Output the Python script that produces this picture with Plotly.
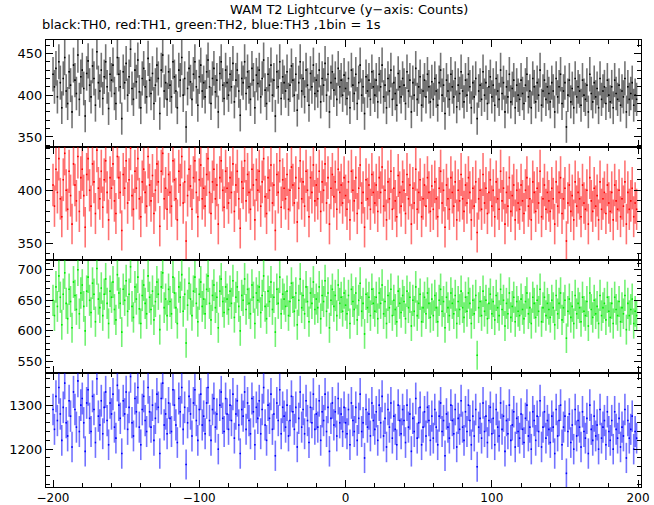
import plotly.graph_objects as go
import numpy as np

time_s = list(range(-200, 200))

th0_counts = [
425,410,432,398,440,415,385,420,445,405,390,428,412,380,436,418,402,448,395,422,
430,408,375,426,441,412,398,435,420,388,452,415,405,430,396,422,440,410,384,425,
418,436,402,390,445,425,410,372,428,415,438,400,422,455,408,395,430,416,442,404,
385,420,432,410,398,444,418,402,426,390,412,436,420,378,430,448,405,415,395,428,
412,398,440,422,405,385,430,418,445,400,420,362,408,432,416,395,425,440,410,388,
422,436,405,415,398,428,442,410,390,420,432,404,418,380,426,440,412,396,430,415,
400,425,410,438,392,418,430,405,376,420,415,440,402,428,410,395,432,418,385,424,
414,430,398,420,442,406,390,425,412,436,400,418,375,428,410,440,396,422,415,405,
428,395,412,435,418,400,425,382,415,440,405,420,398,430,412,388,426,410,436,402,
418,405,430,392,420,412,438,400,425,380,415,428,406,420,395,432,410,418,400,424,
408,396,420,385,430,412,402,425,390,415,436,400,410,378,422,405,418,395,428,410,
400,418,392,425,410,436,398,412,385,420,405,430,395,415,402,388,426,410,398,420,
412,390,428,405,418,380,415,400,432,395,410,422,388,405,418,398,425,410,392,416,
395,420,405,388,415,430,400,412,378,418,405,395,425,410,398,420,386,412,402,428,
405,392,418,400,425,410,385,415,398,420,372,405,412,395,428,400,415,390,410,422,
398,412,388,420,405,395,430,402,415,380,410,398,425,392,408,418,385,412,400,395,
418,402,390,412,425,398,405,385,420,410,392,415,400,430,388,405,418,395,410,402,
392,415,405,380,420,398,410,425,390,405,415,362,400,418,392,408,385,420,398,410,
405,388,418,400,395,412,380,425,402,392,415,398,408,385,420,395,405,410,390,418,
400,392,410,385,418,402,395,412,388,405,398,420,380,410,395,402,415,388,400,395]

th1_counts = [
405,385,420,398,430,392,375,410,435,400,382,418,395,368,425,405,390,432,380,412,
420,395,365,415,430,400,385,425,408,378,438,402,392,418,384,410,428,398,372,412,
402,425,390,378,432,412,398,362,415,402,428,388,410,440,395,382,418,402,430,392,
375,408,420,398,385,432,405,390,414,378,400,425,408,366,418,435,392,402,382,415,
398,385,428,410,392,372,418,405,432,388,408,352,395,420,404,382,412,428,398,375,
410,424,392,402,385,415,430,398,378,408,420,392,405,368,412,428,400,384,418,402,
388,412,398,425,380,405,418,392,364,408,402,428,390,415,398,382,420,405,372,410,
400,418,385,408,430,394,378,412,400,424,388,405,362,415,398,428,384,410,402,392,
415,382,400,422,405,388,412,370,402,428,392,408,385,418,400,375,412,398,424,390,
405,392,418,380,408,400,425,388,412,368,402,415,394,408,382,420,398,405,388,412,
395,382,408,372,418,400,390,412,378,402,424,388,398,365,410,392,405,382,415,398,
388,405,380,412,398,422,385,400,372,408,392,418,382,402,390,375,414,398,385,408,
400,378,415,392,405,368,402,388,420,382,398,410,375,392,405,385,412,398,380,404,
382,408,392,375,402,418,388,400,365,405,392,382,412,398,385,408,372,400,390,415,
392,380,405,388,412,398,372,402,385,408,360,392,400,382,415,388,402,378,398,410,
385,400,375,408,392,382,418,390,402,368,398,385,412,380,395,405,372,400,388,382,
405,390,378,400,412,385,392,372,408,398,380,402,388,418,375,392,405,382,398,390,
380,402,392,368,408,385,398,412,378,392,402,352,388,405,380,395,372,408,385,398,
392,375,405,388,382,400,368,412,390,380,402,385,395,372,408,382,392,398,378,405,
388,380,398,372,405,390,382,400,375,392,385,408,368,398,382,390,402,375,388,382]

th2_counts = [
650,625,672,640,690,655,610,660,695,645,620,668,648,605,680,658,635,700,628,662,
675,640,600,665,688,650,630,678,660,615,702,652,638,670,625,660,685,645,612,665,
655,680,635,618,692,662,645,598,668,650,682,632,660,705,640,622,672,652,688,636,
612,658,675,645,628,690,655,635,665,618,648,680,660,602,672,695,638,652,625,668,
648,628,688,662,638,612,672,655,692,632,660,580,642,678,652,625,665,688,645,615,
660,680,640,652,628,668,690,645,618,658,675,638,655,605,665,685,648,630,672,652,
635,665,645,682,622,655,672,640,600,658,650,685,635,668,645,628,675,655,612,662,
650,672,630,658,690,640,620,665,648,680,635,655,598,668,645,688,628,660,652,640,
665,625,648,678,655,632,662,610,650,685,638,658,628,672,648,615,662,645,680,635,
652,638,672,620,658,648,682,632,662,605,650,668,640,658,625,675,645,655,632,662,
642,628,658,612,668,648,635,662,618,650,678,632,645,595,660,638,655,625,668,645,
632,655,620,662,645,675,628,648,612,658,638,668,625,650,635,615,665,645,630,658,
648,620,665,638,655,608,650,632,672,625,645,660,615,638,655,628,662,645,622,652,
625,658,638,615,650,668,632,648,605,655,638,625,662,645,628,658,612,648,635,665,
638,622,655,632,662,645,612,650,628,658,560,638,648,625,665,632,650,620,645,660,
628,648,618,658,638,625,668,635,650,608,645,628,662,622,640,655,615,648,632,625,
652,635,620,648,662,628,638,612,655,645,622,650,632,668,615,638,655,625,645,635,
622,650,638,610,658,628,645,662,618,638,650,588,632,652,622,640,612,658,628,645,
638,615,655,632,625,648,608,662,635,622,650,628,640,612,658,625,638,645,618,655,
632,622,645,612,655,635,625,648,615,638,628,658,602,645,625,635,652,612,632,625]

th3_counts = [
1290,1245,1320,1265,1340,1280,1220,1295,1350,1260,1230,1310,1275,1205,1330,1290,1250,1355,1240,1300,
1315,1260,1195,1305,1335,1270,1240,1320,1290,1215,1360,1275,1255,1310,1235,1295,1330,1265,1210,1305,
1280,1325,1250,1225,1345,1300,1270,1190,1310,1280,1330,1245,1295,1365,1260,1230,1315,1285,1340,1250,
1210,1290,1320,1265,1240,1340,1285,1250,1300,1220,1270,1325,1295,1190,1315,1350,1255,1280,1235,1305,
1270,1240,1335,1300,1255,1215,1315,1285,1340,1245,1295,1165,1260,1320,1280,1230,1305,1335,1265,1220,
1290,1325,1255,1275,1235,1305,1340,1265,1220,1290,1315,1250,1280,1200,1300,1330,1270,1240,1315,1280,
1245,1300,1265,1325,1225,1280,1310,1255,1190,1290,1275,1330,1245,1305,1265,1235,1315,1285,1210,1295,
1270,1310,1235,1290,1340,1255,1220,1300,1270,1325,1245,1280,1185,1305,1265,1335,1235,1295,1275,1250,
1300,1230,1265,1320,1285,1245,1295,1205,1270,1330,1250,1290,1235,1310,1265,1215,1295,1260,1325,1245,
1280,1250,1310,1220,1285,1265,1325,1240,1295,1195,1270,1305,1255,1285,1230,1315,1260,1280,1240,1295,
1260,1235,1290,1210,1305,1265,1240,1295,1220,1270,1325,1240,1260,1180,1290,1250,1280,1230,1305,1265,
1245,1285,1220,1300,1260,1320,1230,1270,1205,1290,1250,1305,1225,1275,1245,1210,1300,1265,1235,1290,
1265,1215,1300,1250,1280,1195,1270,1240,1315,1225,1260,1295,1210,1250,1285,1230,1295,1265,1220,1275,
1225,1290,1250,1210,1275,1305,1240,1265,1185,1280,1250,1225,1300,1265,1235,1290,1205,1270,1245,1310,
1250,1220,1285,1240,1300,1265,1210,1275,1230,1290,1160,1250,1270,1225,1305,1240,1275,1215,1265,1295,
1235,1270,1210,1290,1250,1230,1305,1245,1275,1195,1265,1235,1300,1220,1255,1285,1205,1270,1240,1225,
1280,1245,1215,1270,1300,1230,1250,1200,1285,1265,1220,1275,1240,1310,1205,1250,1285,1225,1265,1245,
1215,1275,1250,1190,1290,1230,1265,1300,1210,1250,1275,1145,1240,1280,1215,1255,1200,1290,1230,1265,
1250,1205,1285,1240,1225,1270,1190,1300,1245,1220,1275,1230,1255,1200,1290,1225,1250,1265,1210,1285,
1240,1220,1265,1200,1285,1245,1225,1270,1205,1250,1230,1290,1180,1265,1225,1245,1275,1200,1240,1225]

series = [
    (th0_counts, "black", "rgba(0,0,0,0.55)", [338, 466], [350, 400, 450], 10),
    (th1_counts, "red", "rgba(255,0,0,0.55)", [334, 441], [350, 400], 10),
    (th2_counts, "#00ee00", "rgba(0,230,0,0.55)", [531, 716], [550, 600, 650, 700], 10),
    (th3_counts, "blue", "rgba(0,0,255,0.55)", [1114, 1373], [1200, 1300], 20),
]

H = 505
top, bot = 40, 18
edges_px = [40, 147, 260, 373, 487]
fig = go.Figure()
for i, (vals, col, ecol, yr, tv, mdt) in enumerate(series):
    n = i + 1
    err = np.sqrt(np.array(vals, dtype=float))
    fig.add_trace(go.Scatter(
        x=time_s, y=vals, mode="markers", marker=dict(size=1, color=col),
        error_y=dict(type="data", array=err, color=ecol, thickness=1.6, width=0),
        error_x=dict(type="constant", value=0.5, color=col, thickness=1.6, width=0),
        xaxis=f"x{n}" if n > 1 else "x", yaxis=f"y{n}" if n > 1 else "y",
        showlegend=False, hoverinfo="skip", cliponaxis=True))
    d0 = 1 - (edges_px[i + 1] - top) / (H - top - bot)
    d1 = 1 - (edges_px[i] - top) / (H - top - bot)
    axs = dict(ticks="inside", mirror="allticks", showline=True, linecolor="black",
               linewidth=1, showgrid=False, zeroline=False, ticklen=7, automargin=False,
               tickcolor="black", tickfont=dict(size=13, color="black", family="DejaVu Sans"))
    xk = "xaxis" if n == 1 else f"xaxis{n}"
    yk = "yaxis" if n == 1 else f"yaxis{n}"
    fig.layout[yk] = dict(axs, domain=[d0, d1], range=yr, tickvals=tv,
                          anchor="x" if n == 1 else f"x{n}",
                          minor=dict(ticks="inside", ticklen=4, dtick=mdt, tickcolor="black"))
    fig.layout[xk] = dict(axs, range=[-204.8, 202], tickvals=[-200, -100, 0, 100, 200],
                          showticklabels=(n == 4), anchor="y" if n == 1 else f"y{n}",
                          minor=dict(ticks="inside", ticklen=4, dtick=20, tickcolor="black"))
    if n > 1:
        fig.layout[xk]["matches"] = "x"
fig.layout.xaxis4.tickfont.size = 12
fig.layout.xaxis4.ticklabelstandoff = 0

ph = H - top - bot
fig.update_layout(
    width=654, height=505, plot_bgcolor="white", paper_bgcolor="white",
    margin=dict(l=46, r=13, t=top, b=bot),
    annotations=[
        dict(text="WAM T2 Lightcurve (y−axis: Counts)", x=0.51, y=1 + (top - 9) / ph,
             xref="paper", yref="paper", yanchor="middle", showarrow=False,
             font=dict(size=13, family="DejaVu Sans", color="black")),
        dict(text="black:TH0, red:TH1, green:TH2, blue:TH3 ,1bin = 1s", x=-6 / (654 - 46 - 13),
             xanchor="left", y=1 + (top - 25) / ph, yanchor="middle", xref="paper", yref="paper",
             showarrow=False, font=dict(size=13, family="DejaVu Sans", color="black")),
    ])
fig.write_html("out.html", config={"displayModeBar": False},
               post_script="document.body.style.margin='0';document.body.style.overflow='hidden';")
